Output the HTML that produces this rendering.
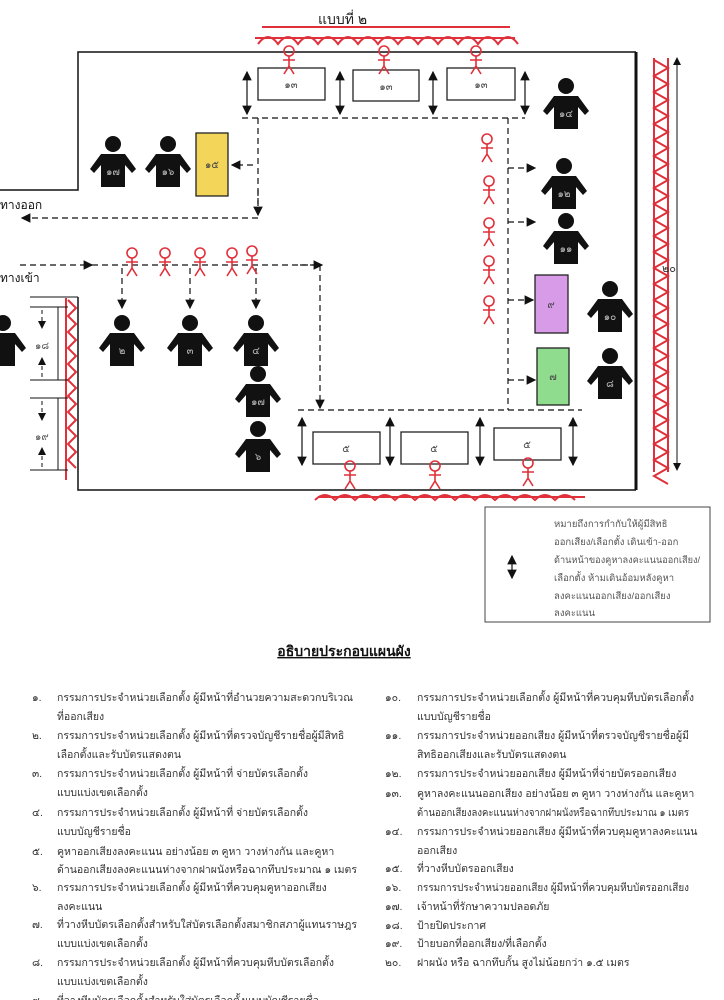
<!DOCTYPE html>
<html><head><meta charset="utf-8"><style>
body{margin:0;background:#fff;width:724px;height:1000px;overflow:hidden;font-family:"Liberation Sans","DejaVu Sans",sans-serif;}
svg{position:absolute;left:0;top:0}
.t{font-family:"Liberation Sans","DejaVu Sans",sans-serif;}
</style></head><body>
<svg width="724" height="1000" viewBox="0 0 724 1000">
<defs>
<marker id="ah" markerWidth="8" markerHeight="8" refX="7" refY="4" orient="auto"><path d="M0,0 L8,4 L0,8z" fill="#111"/></marker>
<marker id="as" markerWidth="8" markerHeight="8" refX="1" refY="4" orient="auto"><path d="M8,0 L0,4 L8,8z" fill="#111"/></marker>
<g id="p"><circle cx="0" cy="-19" r="8" fill="#111"/><path d="M-12,-9 L12,-9 L23,6 L19,10 L12,2 L12,24 L-12,24 L-12,2 L-19,10 L-23,6z" fill="#111"/></g>
<g id="s" fill="none" stroke="#e0303a" stroke-width="1.6"><circle cx="0" cy="-9" r="5"/><path d="M0,-4 L0,6 M-6,0 L6,0 M0,6 L-5,14 M0,6 L5,14"/></g>
</defs>
<text x="318" y="24" font-size="14" fill="#222">แบบที่ ๒</text>
<!-- red hatches -->
<g stroke="#e0303a" stroke-width="2" fill="none">
<path d="M255,38 L515,38 M262,27 L510,27"/>
<path d="M258,44 q10,-14 20,0 q10,-14 20,0 q10,-14 20,0 q10,-14 20,0 q10,-14 20,0 q10,-14 20,0 q10,-14 20,0 q10,-14 20,0 q10,-14 20,0 q10,-14 20,0 q10,-14 20,0 q10,-14 20,0 q10,-14 20,0"/>
<path d="M315,500 q10,-10 20,0 q10,-10 20,0 q10,-10 20,0 q10,-10 20,0 q10,-10 20,0 q10,-10 20,0 q10,-10 20,0 q10,-10 20,0 q10,-10 20,0 q10,-10 20,0 q10,-10 20,0 q10,-10 20,0 q10,-10 20,0 M318,497 L585,497"/>
<path d="M654,58 L654,472 M668,58 L668,472"/>
<path d="M654,60 l14,8 l-14,8 l14,8 l-14,8 l14,8 l-14,8 l14,8 l-14,8 l14,8 l-14,8 l14,8 l-14,8 l14,8 l-14,8 l14,8 l-14,8 l14,8 l-14,8 l14,8 l-14,8 l14,8 l-14,8 l14,8 l-14,8 l14,8 l-14,8 l14,8 l-14,8 l14,8 l-14,8 l14,8 l-14,8 l14,8 l-14,8 l14,8 l-14,8 l14,8 l-14,8 l14,8 l-14,8 l14,8 l-14,8 l14,8 l-14,8 l14,8 l-14,8 l14,8 l-14,8 l14,8 l-14,8 l14,8 l-14,8 l14,8"/>
<path d="M66,298 L66,480"/>
<path d="M68,300 l8,8 l-8,8 l8,8 l-8,8 l8,8 l-8,8 l8,8 l-8,8 l8,8 l-8,8 l8,8 l-8,8 l8,8 l-8,8 l8,8 l-8,8 l8,8 l-8,8 l8,8 l-8,8 l8,8"/>
</g>
<!-- walls -->
<g stroke="#111" fill="none">
<path d="M0,190 L78,190 L78,52 L636,52" stroke-width="1.5"/>
<path d="M636,52 L636,490" stroke-width="3"/>
<path d="M78,297 L78,490 L636,490" stroke-width="1.5"/>
<path d="M30,297 L78,297 M30,307 L68,307 M30,380 L68,380 M30,398 L68,398 M30,470 L68,470 M58,307 L58,380 M58,398 L58,470" stroke-width="1"/>
<path d="M42,310 L42,328" stroke-dasharray="4,3" marker-end="url(#ah)"/>
<path d="M42,377 L42,358" stroke-dasharray="4,3" marker-end="url(#ah)"/>
<path d="M42,401 L42,420" stroke-dasharray="4,3" marker-end="url(#ah)"/>
<path d="M42,467 L42,448" stroke-dasharray="4,3" marker-end="url(#ah)"/>
<path d="M677,58 L677,470" stroke-width="1" marker-end="url(#ah)" marker-start="url(#as)"/>
</g>
<text x="662" y="272" font-size="11" fill="#333">๒๐</text>
<text x="35" y="349" font-size="10" fill="#555">๑๘</text>
<text x="35" y="440" font-size="10" fill="#555">๑๙</text>
<!-- booths -->
<g stroke="#222" fill="#fff" stroke-width="1.3">
<rect x="258" y="68" width="67" height="32"/><rect x="353" y="70" width="66" height="31"/><rect x="447" y="68" width="68" height="32"/>
<rect x="313" y="432" width="67" height="32"/><rect x="401" y="432" width="67" height="32"/><rect x="494" y="428" width="67" height="32"/>
<rect x="196" y="133" width="32" height="63" fill="#f3d55a"/>
<rect x="535" y="275" width="33" height="58" fill="#d89be8"/>
<rect x="537" y="348" width="32" height="57" fill="#8fdc8f"/>
</g>
<g font-size="10" fill="#444" text-anchor="middle">
<text x="291" y="88">๑๓</text><text x="386" y="90">๑๓</text><text x="481" y="88">๑๓</text>
<text x="346" y="452">๕</text><text x="434" y="452">๕</text><text x="527" y="448">๕</text>
<text x="212" y="168">๑๕</text><text x="551" y="308">๙</text><text x="553" y="380">๗</text>
</g>
<!-- double arrows -->
<g stroke="#111" stroke-width="1.2" marker-end="url(#ah)" marker-start="url(#as)">
<path d="M247,72 L247,114"/><path d="M340,72 L340,114"/><path d="M433,72 L433,114"/><path d="M525,72 L525,114"/>
<path d="M302,418 L302,465"/><path d="M390,418 L390,465"/><path d="M480,418 L480,465"/><path d="M573,418 L573,465"/>
</g>
<!-- dashed paths -->
<g stroke="#111" stroke-width="1.2" fill="none" stroke-dasharray="6,4">
<path d="M242,118 L525,118"/>
<path d="M258,118 L258,218 L22,218" marker-end="url(#ah)"/>
<path d="M253,165 L232,165" marker-end="url(#ah)"/>
<path d="M258,190 L258,215" marker-end="url(#ah)"/>
<path d="M508,118 L508,410"/>
<path d="M298,410 L582,410"/>
<path d="M508,168 L535,168" marker-end="url(#ah)"/>
<path d="M508,222 L535,222" marker-end="url(#ah)"/>
<path d="M508,300 L533,300" marker-end="url(#ah)"/>
<path d="M508,380 L535,380" marker-end="url(#ah)"/>
<path d="M20,265 L92,265" marker-end="url(#ah)"/>
<path d="M92,265 L320,265" />
<path d="M300,265 L322,265" marker-end="url(#ah)"/>
<path d="M320,265 L320,408" marker-end="url(#ah)"/>
<path d="M122,268 L122,308" marker-end="url(#ah)"/>
<path d="M190,268 L190,308" marker-end="url(#ah)"/>
<path d="M256,268 L256,308" marker-end="url(#ah)"/>
</g>
<!-- persons -->
<g>
<use href="#p" x="113" y="163"/><use href="#p" x="168" y="163"/>
<use href="#p" x="566" y="105"/><use href="#p" x="564" y="185"/><use href="#p" x="566" y="240"/>
<use href="#p" x="610" y="308"/><use href="#p" x="610" y="375"/>
<use href="#p" x="122" y="342"/><use href="#p" x="190" y="342"/><use href="#p" x="256" y="342"/>
<use href="#p" x="258" y="393"/><use href="#p" x="258" y="448"/>
<use href="#p" x="3" y="342"/>
</g>
<g font-size="10" fill="#bbb" text-anchor="middle">
<text x="113" y="175">๑๗</text><text x="168" y="175">๑๖</text><text x="566" y="117">๑๔</text><text x="564" y="197">๑๒</text><text x="566" y="252">๑๑</text><text x="610" y="320">๑๐</text><text x="610" y="387">๘</text><text x="122" y="354">๒</text><text x="190" y="354">๓</text><text x="256" y="354">๔</text><text x="258" y="405">๑๗</text><text x="258" y="460">๖</text>
</g>
<!-- stick figures -->
<g>
<use href="#s" x="289" y="60"/><use href="#s" x="384" y="60"/><use href="#s" x="476" y="60"/>
<use href="#s" x="487" y="148"/><use href="#s" x="489" y="190"/><use href="#s" x="489" y="232"/><use href="#s" x="489" y="270"/><use href="#s" x="489" y="310"/>
<use href="#s" x="132" y="262"/><use href="#s" x="165" y="262"/><use href="#s" x="200" y="262"/><use href="#s" x="232" y="262"/><use href="#s" x="252" y="260"/>
<use href="#s" x="350" y="475"/><use href="#s" x="435" y="475"/><use href="#s" x="528" y="472"/>
</g>
<text x="0" y="209" font-size="12" fill="#111">ทางออก</text>
<text x="0" y="282" font-size="12" fill="#111">ทางเข้า</text>
<!-- legend -->
<rect x="485" y="507" width="225" height="115" fill="#fff" stroke="#444" stroke-width="1"/>
<path d="M512,556 L512,578" stroke="#111" stroke-width="1.2" marker-end="url(#ah)" marker-start="url(#as)"/>
<g font-size="9.5" fill="#555">
<text x="554" y="527">หมายถึงการกำกับให้ผู้มีสิทธิ</text>
<text x="554" y="545">ออกเสียง/เลือกตั้ง เดินเข้า-ออก</text>
<text x="554" y="563" textLength="146" lengthAdjust="spacingAndGlyphs">ด้านหน้าของคูหาลงคะแนนออกเสียง/</text>
<text x="554" y="581">เลือกตั้ง ห้ามเดินอ้อมหลังคูหา</text>
<text x="554" y="599">ลงคะแนนออกเสียง/ออกเสียง</text>
<text x="554" y="616">ลงคะแนน</text>
</g>
<text x="344" y="656" font-size="14" font-weight="bold" text-anchor="middle" text-decoration="underline" fill="#111">อธิบายประกอบแผนผัง</text>
<g font-size="10.5" fill="#333">
<text x="32" y="701">๑.</text><text x="57" y="701">กรรมการประจำหน่วยเลือกตั้ง ผู้มีหน้าที่อำนวยความสะดวกบริเวณ</text><text x="57" y="720">ที่ออกเสียง</text>
<text x="32" y="739">๒.</text><text x="57" y="739">กรรมการประจำหน่วยเลือกตั้ง ผู้มีหน้าที่ตรวจบัญชีรายชื่อผู้มีสิทธิ</text><text x="57" y="758">เลือกตั้งและรับบัตรแสดงตน</text>
<text x="32" y="777">๓.</text><text x="57" y="777">กรรมการประจำหน่วยเลือกตั้ง ผู้มีหน้าที่ จ่ายบัตรเลือกตั้ง</text><text x="57" y="796">แบบแบ่งเขตเลือกตั้ง</text>
<text x="32" y="816">๔.</text><text x="57" y="816">กรรมการประจำหน่วยเลือกตั้ง ผู้มีหน้าที่ จ่ายบัตรเลือกตั้ง</text><text x="57" y="835">แบบบัญชีรายชื่อ</text>
<text x="32" y="855">๕.</text><text x="57" y="855">คูหาออกเสียงลงคะแนน อย่างน้อย ๓ คูหา วางห่างกัน และคูหา</text><text x="57" y="873" textLength="300" lengthAdjust="spacingAndGlyphs">ด้านออกเสียงลงคะแนนห่างจากฝาผนังหรือฉากทึบประมาณ ๑ เมตร</text>
<text x="32" y="891">๖.</text><text x="57" y="891">กรรมการประจำหน่วยเลือกตั้ง ผู้มีหน้าที่ควบคุมคูหาออกเสียง</text><text x="57" y="910">ลงคะแนน</text>
<text x="32" y="928">๗.</text><text x="57" y="928" textLength="300" lengthAdjust="spacingAndGlyphs">ที่วางหีบบัตรเลือกตั้งสำหรับใส่บัตรเลือกตั้งสมาชิกสภาผู้แทนราษฎร</text><text x="57" y="947">แบบแบ่งเขตเลือกตั้ง</text>
<text x="32" y="966">๘.</text><text x="57" y="966">กรรมการประจำหน่วยเลือกตั้ง ผู้มีหน้าที่ควบคุมหีบบัตรเลือกตั้ง</text><text x="57" y="985">แบบแบ่งเขตเลือกตั้ง</text>
<text x="385" y="701">๑๐.</text><text x="417" y="701">กรรมการประจำหน่วยเลือกตั้ง ผู้มีหน้าที่ควบคุมหีบบัตรเลือกตั้ง</text><text x="417" y="720">แบบบัญชีรายชื่อ</text>
<text x="385" y="739">๑๑.</text><text x="417" y="739" textLength="272" lengthAdjust="spacingAndGlyphs">กรรมการประจำหน่วยออกเสียง ผู้มีหน้าที่ตรวจบัญชีรายชื่อผู้มี</text><text x="417" y="758">สิทธิออกเสียงและรับบัตรแสดงตน</text>
<text x="385" y="777">๑๒.</text><text x="417" y="777">กรรมการประจำหน่วยออกเสียง ผู้มีหน้าที่จ่ายบัตรออกเสียง</text>
<text x="385" y="797">๑๓.</text><text x="417" y="797">คูหาลงคะแนนออกเสียง อย่างน้อย ๓ คูหา วางห่างกัน และคูหา</text><text x="417" y="816" textLength="272" lengthAdjust="spacingAndGlyphs">ด้านออกเสียงลงคะแนนห่างจากฝาผนังหรือฉากทึบประมาณ ๑ เมตร</text>
<text x="385" y="835">๑๔.</text><text x="417" y="835">กรรมการประจำหน่วยออกเสียง ผู้มีหน้าที่ควบคุมคูหาลงคะแนน</text><text x="417" y="854">ออกเสียง</text>
<text x="385" y="872">๑๕.</text><text x="417" y="872">ที่วางหีบบัตรออกเสียง</text>
<text x="385" y="891">๑๖.</text><text x="417" y="891" textLength="272" lengthAdjust="spacingAndGlyphs">กรรมการประจำหน่วยออกเสียง ผู้มีหน้าที่ควบคุมหีบบัตรออกเสียง</text>
<text x="385" y="910">๑๗.</text><text x="417" y="910">เจ้าหน้าที่รักษาความปลอดภัย</text>
<text x="385" y="929">๑๘.</text><text x="417" y="929">ป้ายปิดประกาศ</text>
<text x="385" y="947">๑๙.</text><text x="417" y="947">ป้ายบอกที่ออกเสียง/ที่เลือกตั้ง</text>
<text x="385" y="966">๒๐.</text><text x="417" y="966">ฝาผนัง หรือ ฉากทึบกั้น สูงไม่น้อยกว่า ๑.๕ เมตร</text>
<text x="32" y="1004">๙.</text><text x="57" y="1004">ที่วางหีบบัตรเลือกตั้งสำหรับใส่บัตรเลือกตั้งแบบบัญชีรายชื่อ</text>
</g>
</svg>
</body></html>
